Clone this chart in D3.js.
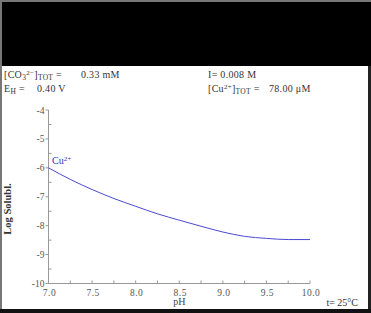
<!DOCTYPE html>
<html lang="en">
<head>
  <meta charset="UTF-8">
  <title>Log Solubility vs pH</title>
  <script src="https://d3js.org/d3.v7.min.js"></script>
  <style>
    body { margin: 0; background: #fff; }
    svg text { font-family: "Liberation Serif", "DejaVu Serif", serif; white-space: pre; }
  </style>
</head>
<body>
  <svg id="chart" width="371" height="313"></svg>
  <script>
    // values
    const pH = [7.0, 7.25, 7.5, 7.75, 8.0, 8.25, 8.5, 8.75, 9.0, 9.25, 9.5, 9.75, 10.0];
    const logCu = [-6.00, -6.40, -6.75, -7.06, -7.33, -7.59, -7.81, -8.02, -8.22, -8.37, -8.44, -8.48, -8.48];
    const xMajor = [7.0, 7.5, 8.0, 8.5, 9.0, 9.5, 10.0];
    const yMajor = [-4, -5, -6, -7, -8, -9, -10];

    const svg = d3.select("#chart");

    // frame
    svg.append("rect").attr("x", 0).attr("y", 0).attr("width", 371).attr("height", 313).attr("fill", "#777");
    svg.append("rect").attr("x", 2).attr("y", 2).attr("width", 369).attr("height", 64).attr("fill", "#000");
    svg.append("rect").attr("x", 2).attr("y", 66).attr("width", 366).attr("height", 243).attr("fill", "#fff");
    svg.append("rect").attr("x", 368).attr("y", 66).attr("width", 3).attr("height", 247).attr("fill", "#222");
    svg.append("rect").attr("x", 0).attr("y", 309).attr("width", 371).attr("height", 4).attr("fill", "#111");

    // header info
    const info = svg.append("g").attr("font-size", 10).attr("fill", "#333").attr("letter-spacing", 0.3);
    function label(x, y, parts) {
      const t = info.append("text").attr("x", x).attr("y", y);
      parts.forEach(p => {
        const s = t.append("tspan").text(p[0]);
        if (p[1] === "sub") s.attr("font-size", 7.5).attr("baseline-shift", "-25%");
        if (p[1] === "sup") s.attr("font-size", 7).attr("baseline-shift", "40%");
      });
      return t;
    }
    label(4, 78, [["[CO"], ["3", "sub"], ["2\u2212", "sup"], ["]"], ["TOT", "sub"], [" ="]]);
    label(81, 78, [["0.33 mM"]]);
    label(4, 92, [["E"], ["H", "sub"], [" ="]]);
    label(37, 92, [["0.40 V"]]);
    label(208, 78, [["I= 0.008 M"]]);
    label(208, 92, [["[Cu"], ["2+", "sup"], ["]"], ["TOT", "sub"], [" ="]]);
    label(269, 92, [["78.00 \u03bcM"]]);

    const x = d3.scaleLinear().domain([7, 10]).range([48.5, 310]);
    const y = d3.scaleLinear().domain([-10, -4]).range([283.5, 110]);

    const axisColor = "#999";
    const plot = svg.append("g");

    // x axis
    plot.append("line").attr("x1", x(7)).attr("x2", x(10)).attr("y1", y(-10)).attr("y2", y(-10))
      .attr("stroke", axisColor);
    plot.selectAll(".xtick").data(d3.range(7, 10.01, 0.25)).enter().append("line")
      .attr("x1", d => x(d)).attr("x2", d => x(d))
      .attr("y1", y(-10)).attr("y2", y(-10) - 3)
      .attr("stroke", axisColor);
    plot.selectAll(".xlab").data(xMajor).enter().append("text")
      .attr("x", d => x(d) + 1).attr("y", y(-10) + 12)
      .attr("text-anchor", "middle").attr("font-size", 9.5).attr("letter-spacing", 0.5).attr("fill", "#555")
      .text(d => d.toFixed(1));

    // y axis
    plot.append("line").attr("x1", x(7)).attr("x2", x(7)).attr("y1", y(-10)).attr("y2", y(-4))
      .attr("stroke", axisColor);
    plot.selectAll(".ytick").data(yMajor).enter().append("line")
      .attr("x1", x(7) - 3).attr("x2", x(7))
      .attr("y1", d => y(d)).attr("y2", d => y(d))
      .attr("stroke", axisColor);
    plot.selectAll(".ymin").data(d3.range(-9.5, -4, 1)).enter().append("line")
      .attr("x1", x(7)).attr("x2", x(7) + 3)
      .attr("y1", d => y(d)).attr("y2", d => y(d))
      .attr("stroke", axisColor);
    plot.selectAll(".ylab").data(yMajor).enter().append("text")
      .attr("x", x(7) - 4).attr("y", d => y(d) + 3.5)
      .attr("text-anchor", "end").attr("font-size", 9.5).attr("fill", "#555")
      .text(d => d);

    // axis titles
    plot.append("text").attr("x", x(8.5)).attr("y", 305)
      .attr("text-anchor", "middle").attr("font-size", 10).attr("fill", "#444").text("pH");
    plot.append("text").attr("transform", "translate(11,209) rotate(-90)")
      .attr("text-anchor", "middle").attr("font-size", 10.5).attr("font-weight", "bold").attr("fill", "#333")
      .text("Log Solubl.");
    plot.append("text").attr("x", 358).attr("y", 306)
      .attr("text-anchor", "end").attr("font-size", 10).attr("fill", "#333").text("t= 25\u00b0C");

    // curve
    const line = d3.line().x((d, i) => x(pH[i])).y(d => y(d)).curve(d3.curveMonotoneX);
    plot.append("path").datum(logCu).attr("d", line)
      .attr("fill", "none").attr("stroke", "#4a4acf").attr("stroke-width", 1);

    const cu = plot.append("text").attr("x", 52).attr("y", 164).attr("font-size", 10).attr("fill", "#2f2fc0");
    cu.append("tspan").text("Cu");
    cu.append("tspan").text("2+").attr("font-size", 7).attr("baseline-shift", "40%");
  </script>
</body>
</html>
